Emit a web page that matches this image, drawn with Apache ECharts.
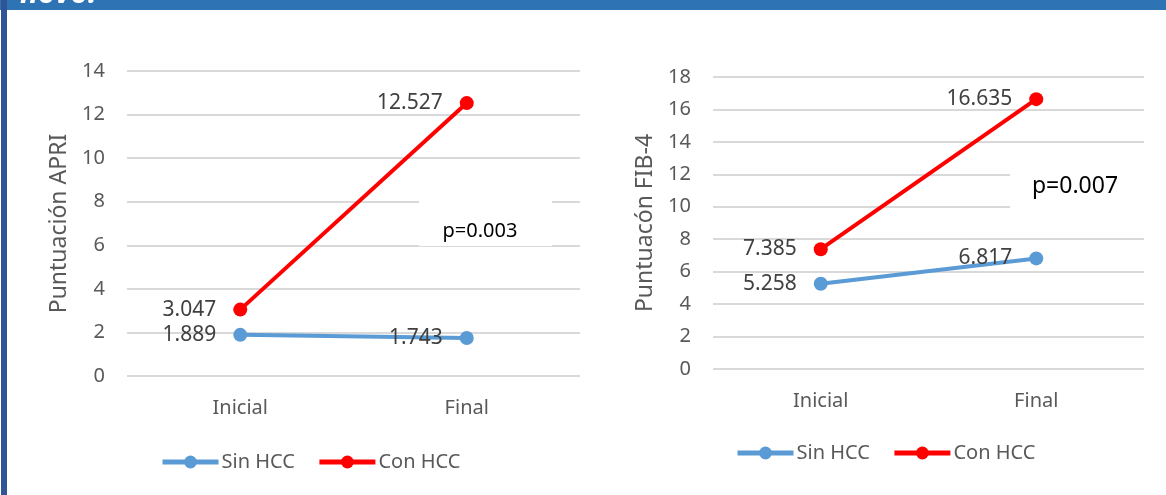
<!DOCTYPE html>
<html>
<head>
<meta charset="utf-8">
<script src="https://cdn.jsdelivr.net/npm/echarts@6/dist/echarts.min.js"></script>
<style>
html,body{margin:0;padding:0;background:#fff;}
#c{width:1166px;height:495px;}
</style>
</head>
<body>
<div id="c"></div>
<script>
var categories = ['Inicial', 'Final'];
var apriSin = [1.889, 1.743];
var apriCon = [3.047, 12.527];
var fibSin = [5.258, 6.817];
var fibCon = [7.385, 16.635];
var seriesNames = ['Sin HCC', 'Con HCC'];
var apriName = 'Puntuación APRI';
var fibName = 'Puntuacón FIB-4';
var apriP = 'p=0.003';
var fibP = 'p=0.007';

var FONT = 'Noto Sans';
var BLUE = '#5B9BD5';
var RED = '#FF0000';

function yAx(gi, max, name, gap) {
  return {
    type: 'value', gridIndex: gi, min: 0, max: max, interval: 2,
    name: name, nameLocation: 'middle', nameGap: gap, nameRotate: 90,
    nameTextStyle: {color: '#595959', fontSize: 23, fontFamily: FONT},
    axisLine: {show: false}, axisTick: {show: false},
    axisLabel: {color: '#595959', fontSize: 20, fontFamily: FONT, margin: 22},
    splitLine: {lineStyle: {color: '#d9d9d9', width: 2}}
  };
}
function xAx(gi) {
  return {
    type: 'category', gridIndex: gi, data: categories, boundaryGap: true,
    axisLine: {show: false}, axisTick: {show: false},
    axisLabel: {color: '#595959', fontSize: 20, fontFamily: FONT, margin: 22}
  };
}
function ser(gi, name, data, color) {
  return {
    type: 'line', name: name, xAxisIndex: gi, yAxisIndex: gi, data: data,
    symbol: 'circle', symbolSize: 14,
    lineStyle: {color: color, width: 4},
    itemStyle: {color: color},
    label: {show: true, position: 'left', distance: 17, color: '#404040', fontSize: 21, fontFamily: FONT,
      formatter: function (p) { return p.value.toFixed(3); }},
    emphasis: {disabled: true},
    z: 3
  };
}
function leg(left, top) {
  return {
    data: seriesNames, left: left, top: top, padding: 0, itemWidth: 56, itemHeight: 16, itemGap: 22,
    lineStyle: {width: 5},
    textStyle: {color: '#595959', fontSize: 20, fontFamily: FONT, padding: [0, 0, 0, -2]},
    selectedMode: false
  };
}

var chart = echarts.init(document.getElementById('c'));
chart.setOption({
  animation: false,
  grid: [
    {left: 127, right: 586, top: 71, bottom: 119},
    {left: 713, right: 22, top: 77, bottom: 126}
  ],
  xAxis: [xAx(0), xAx(1)],
  yAxis: [yAx(0, 14, apriName, 56), yAx(1, 18, fibName, 56)],
  legend: [leg(160, 452), leg(735, 443)],
  series: [
    ser(0, seriesNames[0], apriSin, BLUE),
    ser(0, seriesNames[1], apriCon, RED),
    ser(1, seriesNames[0], fibSin, BLUE),
    ser(1, seriesNames[1], fibCon, RED)
  ],
  graphic: [
    {type: 'rect', shape: {x: 0, y: 0, width: 1166, height: 10}, style: {fill: '#2E74B5'}, z: 10},
    {type: 'rect', shape: {x: 1, y: 0, width: 6, height: 495}, style: {fill: '#2F5597'}, z: 11},
    {type: 'text', x: 20, y: 9, style: {text: 'novo.', fill: '#ffffff', font: 'italic bold 30px ' + FONT, verticalAlign: 'bottom'}, z: 12},
    {type: 'rect', shape: {x: 419, y: 200, width: 133, height: 46}, style: {fill: '#ffffff'}, z: 1},
    {type: 'text', x: 480, y: 231, style: {text: apriP, fill: '#000000', font: '20px ' + FONT, align: 'center', verticalAlign: 'middle'}, z: 2},
    {type: 'rect', shape: {x: 1010, y: 165, width: 140, height: 44}, style: {fill: '#ffffff'}, z: 1},
    {type: 'text', x: 1075, y: 186, style: {text: fibP, fill: '#000000', font: '23px ' + FONT, align: 'center', verticalAlign: 'middle'}, z: 2}
  ]
});
</script>
</body>
</html>
